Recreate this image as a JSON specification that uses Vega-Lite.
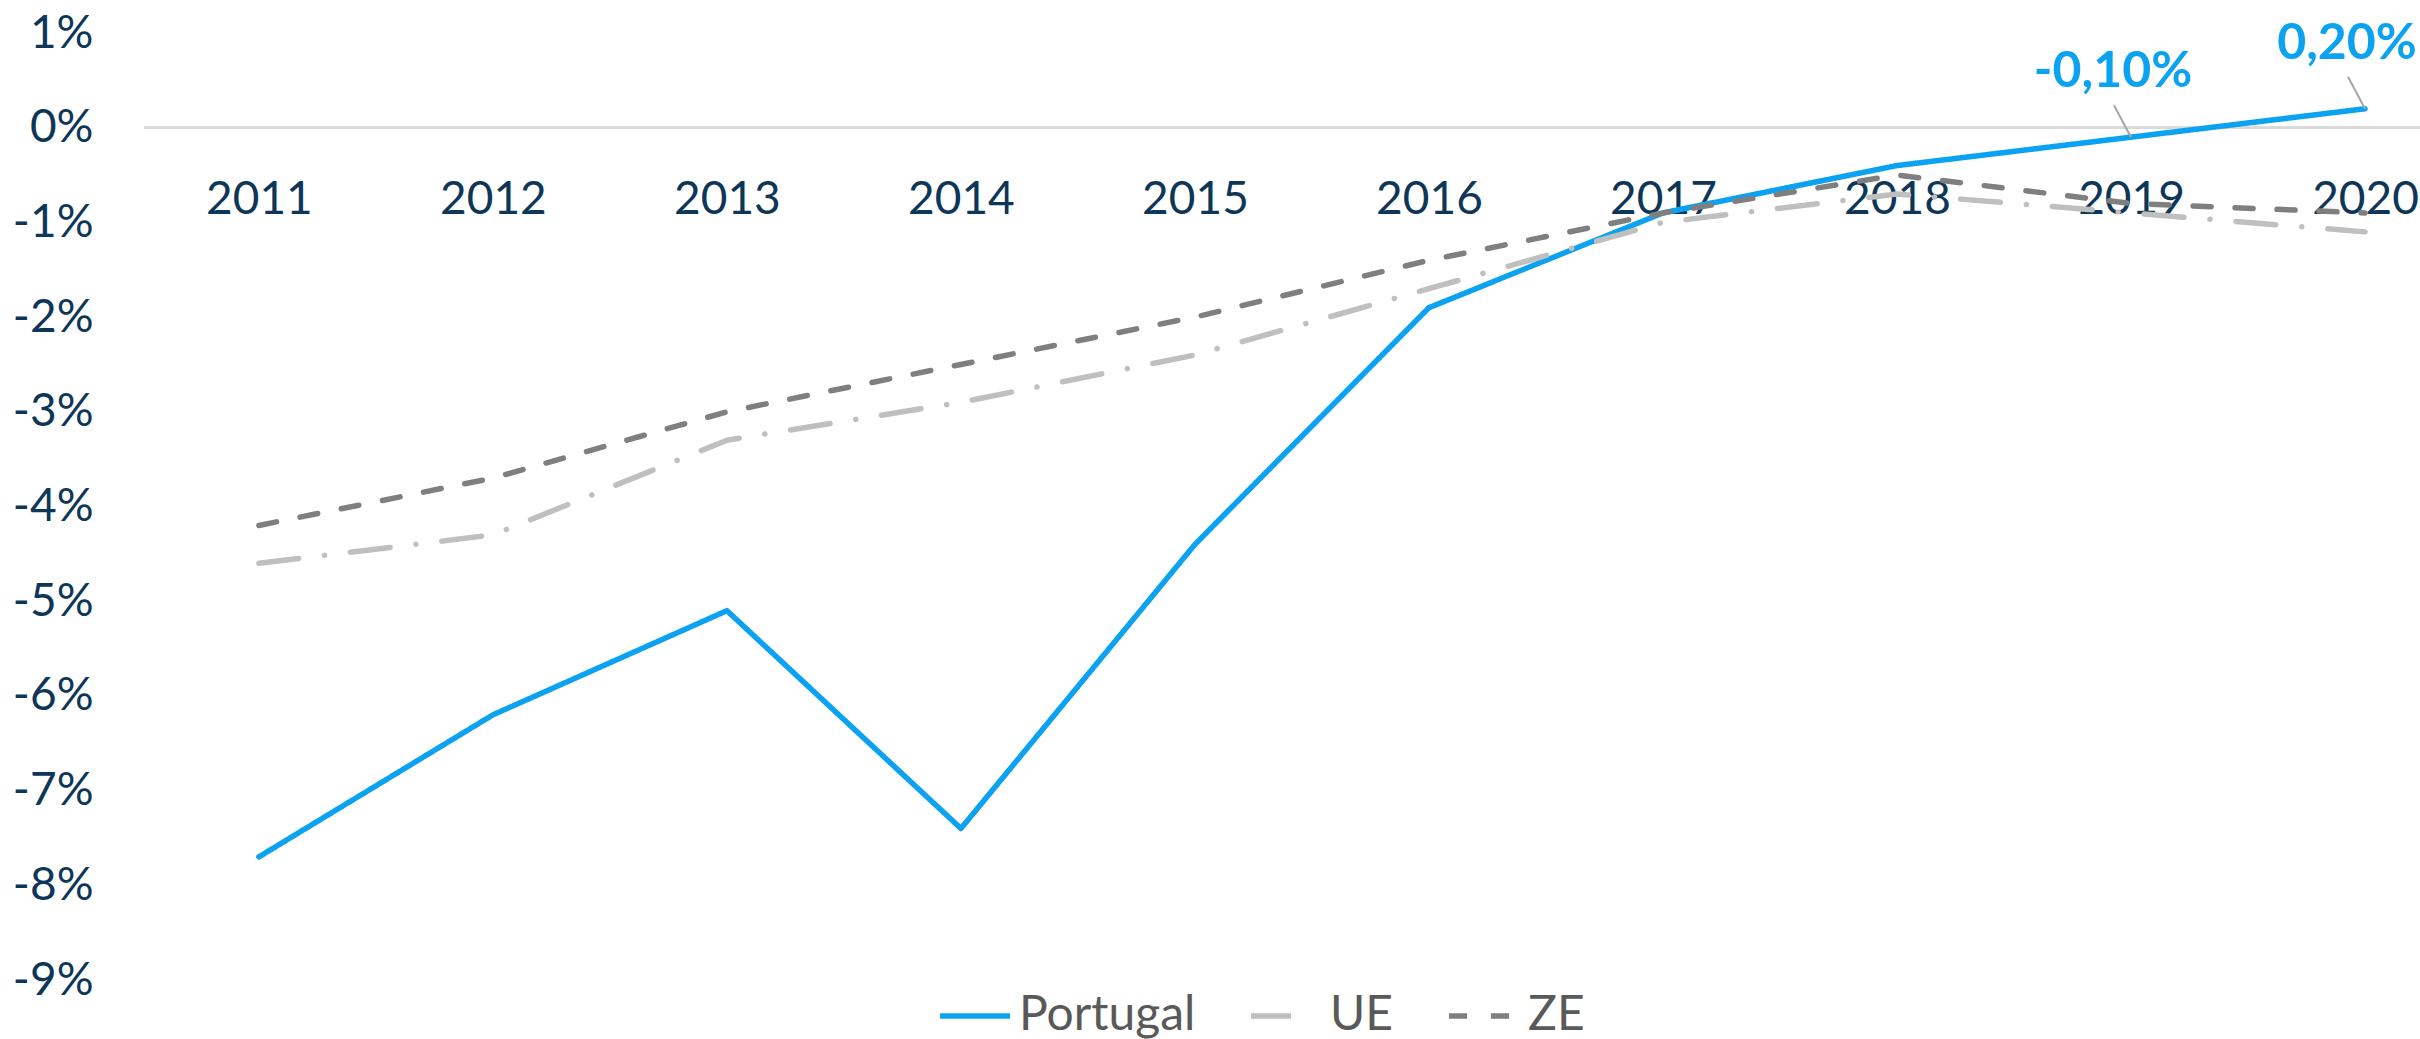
{
  "$schema": "https://vega.github.io/schema/vega-lite/v6.json",
  "width": 2276,
  "height": 947,
  "autosize": "none",
  "padding": {"left": 144, "top": 33, "right": 0, "bottom": 59},
  "background": "white",
  "config": {
    "view": {"stroke": null},
    "font": "Lato"
  },
  "data": {
    "values": [
      {"serie": "Portugal", "ano": 2011, "valor": -7.7},
      {"serie": "Portugal", "ano": 2012, "valor": -6.2},
      {"serie": "Portugal", "ano": 2013, "valor": -5.1},
      {"serie": "Portugal", "ano": 2014, "valor": -7.4},
      {"serie": "Portugal", "ano": 2015, "valor": -4.4},
      {"serie": "Portugal", "ano": 2016, "valor": -1.9},
      {"serie": "Portugal", "ano": 2017, "valor": -0.9},
      {"serie": "Portugal", "ano": 2018, "valor": -0.4},
      {"serie": "Portugal", "ano": 2019, "valor": -0.1, "rotulo": "-0,10%"},
      {"serie": "Portugal", "ano": 2020, "valor": 0.2, "rotulo": "0,20%"},
      {"serie": "UE", "ano": 2011, "valor": -4.6},
      {"serie": "UE", "ano": 2012, "valor": -4.3},
      {"serie": "UE", "ano": 2013, "valor": -3.3},
      {"serie": "UE", "ano": 2014, "valor": -2.9},
      {"serie": "UE", "ano": 2015, "valor": -2.4},
      {"serie": "UE", "ano": 2016, "valor": -1.7},
      {"serie": "UE", "ano": 2017, "valor": -1.0},
      {"serie": "UE", "ano": 2018, "valor": -0.7},
      {"serie": "UE", "ano": 2019, "valor": -0.9},
      {"serie": "UE", "ano": 2020, "valor": -1.1},
      {"serie": "ZE", "ano": 2011, "valor": -4.2},
      {"serie": "ZE", "ano": 2012, "valor": -3.7},
      {"serie": "ZE", "ano": 2013, "valor": -3.0},
      {"serie": "ZE", "ano": 2014, "valor": -2.5},
      {"serie": "ZE", "ano": 2015, "valor": -2.0},
      {"serie": "ZE", "ano": 2016, "valor": -1.4},
      {"serie": "ZE", "ano": 2017, "valor": -0.9},
      {"serie": "ZE", "ano": 2018, "valor": -0.5},
      {"serie": "ZE", "ano": 2019, "valor": -0.8},
      {"serie": "ZE", "ano": 2020, "valor": -0.9}
    ]
  },
  "encoding": {
    "x": {
      "field": "ano",
      "type": "quantitative",
      "scale": {"domain": [2010.509, 2020.235], "nice": false, "zero": false},
      "axis": {
        "title": null,
        "values": [2011, 2012, 2013, 2014, 2015, 2016, 2017, 2018, 2019, 2020],
        "format": "d",
        "offset": -852,
        "domain": false,
        "ticks": false,
        "grid": false,
        "labelFont": "Lato",
        "labelFontSize": 46,
        "labelColor": "#0d3658",
        "labelBaseline": "alphabetic",
        "labelPadding": 85,
        "labelFlush": false,
        "labelOverlap": false,
        "zindex": 0
      }
    },
    "y": {
      "field": "valor",
      "type": "quantitative",
      "scale": {"domain": [-9, 1], "nice": false, "zero": false},
      "axis": {
        "title": null,
        "values": [-9, -8, -7, -6, -5, -4, -3, -2, -1, 0, 1],
        "labelExpr": "datum.value + '%'",
        "domain": false,
        "ticks": false,
        "grid": false,
        "labelFont": "Lato",
        "labelFontSize": 46,
        "labelColor": "#0d3658",
        "labelPadding": 51,
        "labelBaseline": "middle"
      }
    }
  },
  "layer": [
    {
      "mark": {"type": "rule", "color": "#d9d9d9", "strokeWidth": 2},
      "encoding": {"y": {"datum": 0}, "x": null}
    },
    {
      "mark": {"type": "line", "strokeWidth": 5.5, "strokeCap": "round", "strokeJoin": "round"},
      "encoding": {
        "color": {
          "field": "serie",
          "type": "nominal",
          "scale": {"domain": ["Portugal", "UE", "ZE"], "range": ["#0ca2f2", "#bfbfbf", "#7f7f7f"]},
          "legend": {
            "title": null,
            "orient": "none",
            "legendX": 793,
            "legendY": 945,
            "direction": "horizontal",
            "symbolType": "stroke",
            "symbolSize": 4900,
            "symbolStrokeWidth": 5.5,
            "labelFont": "Lato",
            "labelFontSize": 48,
            "labelColor": "#595959",
            "labelLimit": 0,
            "labelOffset": 6,
            "columnPadding": 44,
            "padding": 0
          }
        },
        "strokeDash": {
          "field": "serie",
          "type": "nominal",
          "scale": {"domain": ["Portugal", "UE", "ZE"], "range": [[1, 0], [40, 26, 0.1, 26], [18, 24]]},
          "legend": {
            "title": null,
            "orient": "none",
            "legendX": 793,
            "legendY": 945,
            "direction": "horizontal",
            "symbolType": "stroke",
            "symbolSize": 4900,
            "symbolStrokeWidth": 5.5,
            "labelFont": "Lato",
            "labelFontSize": 48,
            "labelColor": "#595959",
            "labelLimit": 0,
            "labelOffset": 6,
            "columnPadding": 44,
            "padding": 0
          }
        }
      }
    },
    {
      "transform": [{"filter": "isValid(datum.rotulo)"}],
      "mark": {"type": "rule", "color": "#a6a6a6", "strokeWidth": 2, "x2Offset": -17, "y2Offset": -32},
      "encoding": {
        "x2": {"field": "ano"},
        "y2": {"field": "valor"}
      }
    },
    {
      "transform": [{"filter": "isValid(datum.rotulo)"}],
      "mark": {"type": "text", "font": "Lato", "fontSize": 50, "fontWeight": "bold", "color": "#0ca2f2", "dx": -18, "dy": -50, "align": "center", "baseline": "alphabetic"},
      "encoding": {
        "text": {"field": "rotulo"}
      }
    }
  ]
}
